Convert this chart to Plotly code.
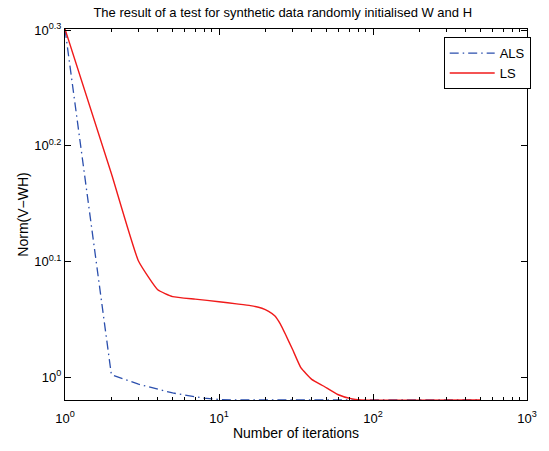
import numpy as np
import plotly.graph_objects as go

# iterations / norm values
als_iter = [1, 2, 3, 4, 5, 6, 7, 8, 10, 12, 500]
als_norm = [2.0, 1.005, 0.986, 0.976, 0.969, 0.965, 0.962, 0.959, 0.9565, 0.9555, 0.9555]

ls_iter = [1, 2, 3, 4, 5, 7, 10, 13, 16, 19, 21, 23, 25, 27, 30, 34, 40, 48, 59, 72, 83, 500]
ls_norm = [2.0, 1.50, 1.26, 1.19, 1.174, 1.168, 1.162, 1.157, 1.153, 1.147, 1.140, 1.130, 1.112,
           1.089, 1.057, 1.019, 0.9955, 0.982, 0.966, 0.958, 0.9557, 0.9555]

x_ticks = [1, 10, 100, 1000]
x_ticktext = ["10<sup>0</sup>", "10<sup>1</sup>", "10<sup>2</sup>", "10<sup>3</sup>"]
x_minor = [m * d for d in [1, 10, 100] for m in range(2, 10)]
y_exps = [0, 0.1, 0.2, 0.3]

FONT = "Liberation Sans, Arial, Helvetica, sans-serif"

fig = go.Figure()
fig.add_trace(go.Scatter(x=als_iter, y=als_norm, mode="lines", name="ALS",
                         line=dict(color="#2b4fad", width=1.3, dash="9px,4px,1.5px,4px")))
fig.add_trace(go.Scatter(x=ls_iter, y=ls_norm, mode="lines", name="LS",
                         line=dict(color="#f01a1a", width=1.4, shape="spline", smoothing=0.4)))

ymin = min(min(als_norm), min(ls_norm))
ymax = max(max(als_norm), max(ls_norm))

axis_common = dict(
    showline=True, linecolor="black", linewidth=1.2, mirror="ticks",
    ticks="inside", ticklen=6, tickwidth=1, tickcolor="black",
    showgrid=False, zeroline=False,
    tickfont=dict(family=FONT, size=13, color="black"),
)

fig.update_xaxes(type="log", range=[0, 3],
                 tickvals=x_ticks, ticktext=x_ticktext, ticklabelstandoff=6,
                 minor=dict(tickvals=x_minor, ticks="inside", ticklen=3, tickcolor="black", showgrid=False),
                 title=dict(text="Number of iterations", font=dict(family=FONT, size=14, color="black"), standoff=3),
                 **axis_common)
fig.update_yaxes(type="log", range=[np.log10(ymin), np.log10(ymax)],
                 tickvals=[10 ** e for e in y_exps],
                 ticktext=["10<sup>%g</sup>" % e for e in y_exps],
                 title=dict(text="Norm(V−WH)", font=dict(family=FONT, size=14, color="black"), standoff=2),
                 **axis_common)

fig.update_layout(
    width=549, height=451,
    margin=dict(l=65, r=12, t=29, b=50),
    paper_bgcolor="white", plot_bgcolor="white",
    title=dict(text="The result of a test for synthetic data randomly initialised W and H",
               x=0.515, xanchor="center", y=0.972, yanchor="middle",
               font=dict(family=FONT, size=13, color="black")),
    legend=dict(x=1.008, y=0.978, xanchor="right", yanchor="top",
                bordercolor="black", borderwidth=1, bgcolor="white",
                font=dict(family=FONT, size=13, color="black"),
                tracegroupgap=0, itemwidth=45),
    showlegend=True,
)

fig.write_html("out.html", config={"displayModeBar": False},
               post_script="document.body.style.margin='0';")
